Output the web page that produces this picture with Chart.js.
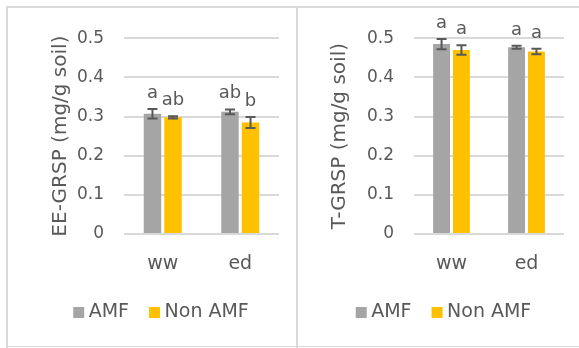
<!DOCTYPE html>
<html>
<head>
<meta charset="utf-8">
<script src="https://cdn.jsdelivr.net/npm/chart.js@4.4.1/dist/chart.umd.min.js"></script>
<style>
  html, body { margin: 0; padding: 0; background: #fff; }
  #wrap { position: relative; width: 579px; height: 348px; overflow: hidden; }
  .rule { position: absolute; background: #d9d9d9; }
  canvas { position: absolute; }
</style>
</head>
<body>
<div id="wrap">
  <div class="rule" style="left:6px;top:6px;width:573px;height:2px"></div>
  <div class="rule" style="left:6px;top:6px;width:2px;height:342px"></div>
  <div class="rule" style="left:296px;top:6px;width:2px;height:342px"></div>
  <div class="rule" style="left:6px;top:346px;width:573px;height:1px"></div>
  <canvas id="eeChart" width="288" height="338" style="left:8px;top:8px"></canvas>
  <canvas id="tChart" width="281" height="338" style="left:298px;top:8px"></canvas>
</div>
<script>
// Categories, series and tick labels
const categories = ['ww', 'ed'];
const seriesNames = ['AMF', 'Non AMF'];
const yTickLabels = ['0', '0.1', '0.2', '0.3', '0.4', '0.5'];

// EE-GRSP (mg/g soil)
const eeAmf = [0.307, 0.312];
const eeAmfErr = [0.012, 0.006];
const eeNonAmf = [0.298, 0.285];
const eeNonAmfErr = [0.003, 0.014];
const eeAmfLetters = ['a', 'ab'];
const eeNonAmfLetters = ['ab', 'b'];

// T-GRSP (mg/g soil)
const tAmf = [0.485, 0.477];
const tAmfErr = [0.013, 0.004];
const tNonAmf = [0.470, 0.466];
const tNonAmfErr = [0.012, 0.007];
const tAmfLetters = ['a', 'a'];
const tNonAmfLetters = ['a', 'a'];

const TEXT = '#595959';
const GRID = '#d9d9d9';
const FONT = "'DejaVu Sans', sans-serif";
Chart.defaults.font.family = FONT;
Chart.defaults.color = TEXT;

// Error bars and significance letters for each bar
const annotatePlugin = {
  id: 'annotate',
  afterDatasetsDraw(chart) {
    const ctx = chart.ctx;
    const y = chart.scales.y;
    chart.data.datasets.forEach((ds, di) => {
      const meta = chart.getDatasetMeta(di);
      meta.data.forEach((bar, i) => {
        const v = ds.data[i];
        const e = ds.errors[i];
        const yTop = y.getPixelForValue(v + e);
        const yBot = y.getPixelForValue(v - e);
        ctx.save();
        ctx.strokeStyle = TEXT;
        ctx.lineWidth = 2;
        ctx.beginPath();
        ctx.moveTo(bar.x, yTop); ctx.lineTo(bar.x, yBot);
        ctx.moveTo(bar.x - 5, yTop); ctx.lineTo(bar.x + 5, yTop);
        ctx.moveTo(bar.x - 5, yBot); ctx.lineTo(bar.x + 5, yBot);
        ctx.stroke();
        ctx.fillStyle = TEXT;
        ctx.font = "18px " + FONT;
        ctx.textAlign = 'center';
        ctx.textBaseline = 'alphabetic';
        ctx.fillText(ds.letters[i], bar.x, yTop - 11);
        ctx.restore();
      });
    });
  }
};

function makeChart(id, title, amf, amfErr, amfLetters, non, nonErr, nonLetters, padLeft, padRight, titlePad) {
  return new Chart(document.getElementById(id), {
    type: 'bar',
    data: {
      labels: categories,
      datasets: [
        { label: seriesNames[0], data: amf, errors: amfErr, letters: amfLetters,
          backgroundColor: '#a5a5a5', barPercentage: 0.85, categoryPercentage: 0.53 },
        { label: seriesNames[1], data: non, errors: nonErr, letters: nonLetters,
          backgroundColor: '#ffc000', barPercentage: 0.85, categoryPercentage: 0.53 }
      ]
    },
    options: {
      responsive: false,
      animation: false,
      layout: { padding: { left: padLeft, right: padRight, top: 30, bottom: 14 } },
      plugins: {
        tooltip: { enabled: false },
        legend: {
          position: 'bottom',
          labels: {
            usePointStyle: true, pointStyle: 'rect',
            boxWidth: 1, boxHeight: 11, padding: 25,
            color: TEXT, font: { size: 19 }
          }
        }
      },
      scales: {
        x: {
          grid: { display: false, drawTicks: false },
          border: { display: false },
          ticks: { color: TEXT, font: { size: 19 }, padding: 19 },
          afterFit(scale) { scale.height = 44; }
        },
        y: {
          min: 0, max: 0.5,
          grid: { color: GRID, lineWidth: 2, drawTicks: false },
          border: { display: false },
          ticks: {
            stepSize: 0.1, color: TEXT, font: { size: 17 }, padding: 20,
            callback: (v, i) => yTickLabels[i]
          },
          title: { display: true, text: title, color: TEXT, font: { size: 20 }, padding: { top: titlePad, bottom: 0 } },
          afterFit(scale) { scale.width = 116 - padLeft; }
        }
      }
    },
    plugins: [annotatePlugin]
  });
}

makeChart('eeChart', 'EE-GRSP (mg/g soil)', eeAmf, eeAmfErr, eeAmfLetters,
  eeNonAmf, eeNonAmfErr, eeNonAmfLetters, 40, 17, 1);
makeChart('tChart', 'T-GRSP (mg/g soil)', tAmf, tAmfErr, tAmfLetters,
  tNonAmf, tNonAmfErr, tNonAmfLetters, 30, 15, 0);
</script>
</body>
</html>
